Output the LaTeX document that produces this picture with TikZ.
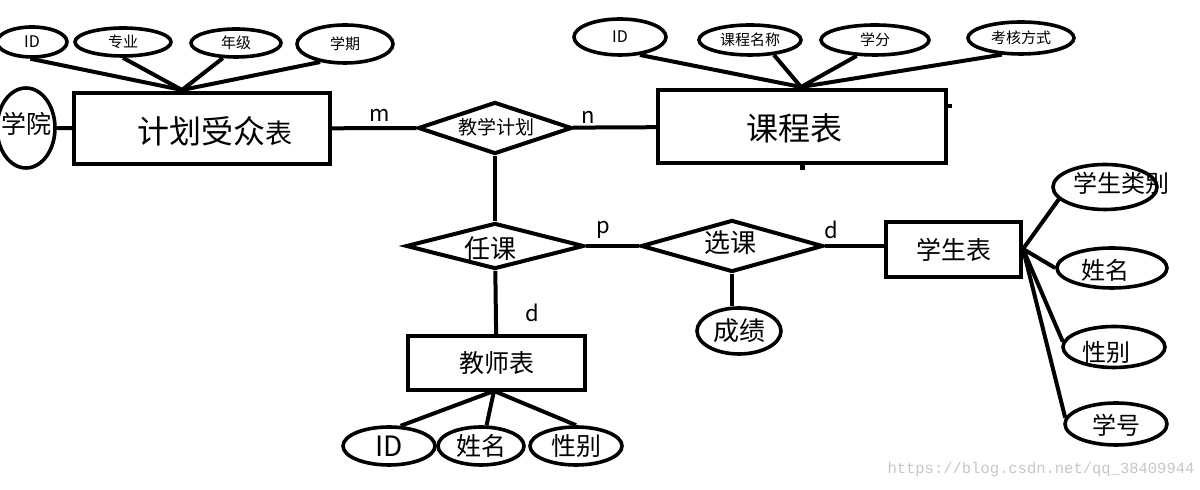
\documentclass[tikz,border=0pt]{standalone}
\usepackage{fontspec}
\setmainfont{Noto Sans CJK SC}
\newfontfamily\wmfont{Liberation Mono}
\usetikzlibrary{shapes.geometric}
\tikzset{
  er/.style={line width=2pt},
  entity/.style={draw,line width=2pt,inner sep=0pt},
  attr/.style={draw,ellipse,line width=1.8pt,inner sep=0pt},
  rel/.style={draw,diamond,line width=2pt,inner sep=0pt},
  lbl/.style={inner sep=0pt},
}
\newcommand{\fs}[1]{\fontsize{#1}{#1}\selectfont}
\begin{document}
\begin{tikzpicture}[x=0.5pt,y=-0.5pt]
  \path[use as bounding box,fill=white] (0,0) rectangle (1200,490);
  % entities
  \node[entity,minimum width=128pt,minimum height=35.5pt] (plan) at (202,128.5) {};
  \node[entity,minimum width=144pt,minimum height=36.5pt] (course) at (802,126.5) {};
  \node[entity,minimum width=67.5pt,minimum height=27.5pt] (student) at (953.5,249.5) {\fs{12.5}学生表};
  \node[entity,minimum width=88.5pt,minimum height=27pt] (teacher) at (496.5,363) {\fs{12.5}教师表};
  \node[lbl] (lplan) at (215,131) {\fs{16}计划受众\fs{13.5}表};
  \node[lbl] (lcourse) at (794,128) {\fs{16}课程表};
  \fill (course.south) ++(-2,0) rectangle ++(5,5);
  \fill (course.east) ++(0,-22) rectangle ++(4,4);
  % relationships
  \node[rel,minimum width=77pt,minimum height=26pt] (teach) at (495,128) {};
  \node[rel,minimum width=89pt,minimum height=23pt] (assign) at (495,246) {};
  \node[rel,minimum width=91pt,minimum height=26pt] (select) at (732,246) {};
  \node[lbl] (lteach) at (496,127) {\fs{9.5}教学计划};
  \node[lbl] (lassign) at (490,249) {\fs{13}任课};
  \node[lbl] (lselect) at (730,243) {\fs{13}选课};
  % attributes
  \node[attr,minimum width=35pt,minimum height=15pt] (aID) at (32,42) {\fs{8}ID};
  \node[attr,minimum width=48pt,minimum height=14pt] (aMajor) at (123,42) {\fs{7.5}专业};
  \node[attr,minimum width=45pt,minimum height=14pt] (aGrade) at (236,43) {\fs{7.5}年级};
  \node[attr,minimum width=48pt,minimum height=19pt] (aTerm) at (345,44) {\fs{7.5}学期};
  \node[attr,minimum width=29pt,minimum height=40pt] (aCollege) at (26,128) {};
  \node[lbl] (lcollege) at (27,124) {\fs{12.5}学院};
  \node[attr,minimum width=46pt,minimum height=18pt] (cID) at (620,37) {\fs{8}ID};
  \node[attr,minimum width=51pt,minimum height=15pt] (cName) at (750,40) {\fs{7.5}课程名称};
  \node[attr,minimum width=54pt,minimum height=15pt] (cCredit) at (875,40) {\fs{7.5}学分};
  \node[attr,minimum width=53pt,minimum height=16pt] (cExam) at (1021,38) {\fs{7.5}考核方式};
  \node[attr,minimum width=52pt,minimum height=22.5pt] (sType) at (1105,187) {};
  \node[attr,minimum width=55pt,minimum height=20pt] (sName) at (1112,268) {};
  \node[attr,minimum width=51pt,minimum height=20.5pt] (sSex) at (1114,347) {};
  \node[attr,minimum width=51pt,minimum height=21pt] (sNo) at (1116,424) {};
  \node[lbl] (lstype) at (1121,183) {\fs{12}学生类别};
  \node[lbl] (lsname) at (1105,270) {\fs{12}姓名};
  \node[lbl] (lssex) at (1106,352) {\fs{12}性别};
  \node[lbl] (lsno) at (1116,425) {\fs{12}学号};
  \node[attr,minimum width=42pt,minimum height=23pt] (score) at (739,331) {\fs{13}成绩};
  \node[attr,minimum width=46pt,minimum height=19pt] (tID) at (389,446) {\fs{14}ID};
  \node[attr,minimum width=43pt,minimum height=19pt] (tName) at (481,446) {\fs{12.5}姓名};
  \node[attr,minimum width=46pt,minimum height=19pt] (tSex) at (576,446) {\fs{12.5}性别};
  % connectors
  \coordinate (planT) at (182,90);
  \coordinate (courseT) at (801,87);
  \coordinate (teacherB) at (494,391);
  \coordinate (studentR) at (1023,249);
  \foreach \a in {aID.265,aMajor.south,aGrade.229,aTerm.216} \draw[er] (\a) -- (planT);
  \foreach \a in {cID.318,cName.328,cCredit.221,cExam.221} \draw[er] (\a) -- (courseT);
  \foreach \a in {tID.60,tName.75,tSex.north} \draw[er] (teacherB) -- (\a);
  \foreach \a in {sType.195,sName.west,sSex.174,sNo.173} \draw[er] (studentR) -- (\a);
  \draw[er] (aCollege) -- (plan);
  \draw[er] (plan) -- (teach) -- (course);
  \draw[er] (teach) -- (assign) -- (select);
  \draw[er] (select.east) -- (select.east -| student.west);
  \draw[er] (select.south) -- (select.south |- score.north);
  \draw[er] (assign) -- (teacher);
  % cardinalities
  \node[lbl] (cm) at (380,115) {\fs{11}m};
  \node[lbl] (cn) at (588,117) {\fs{11}n};
  \node[lbl] (cp) at (603,230) {\fs{11}p};
  \node[lbl] (cd1) at (831,230) {\fs{11}d};
  \node[lbl] (cd2) at (532,313) {\fs{11}d};
  \node[lbl,text=black!22] (wm) at (1041,469) {\wmfont\fs{7.75}https://blog.csdn.net/qq\_38409944};
\end{tikzpicture}
\end{document}
